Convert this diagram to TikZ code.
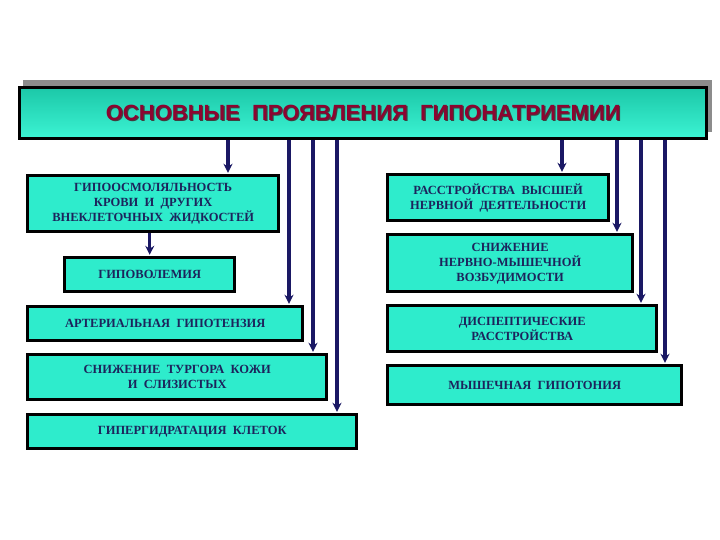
\documentclass[tikz,border=0pt]{standalone}
\usepackage{fontspec}
\setmainfont{Liberation Serif}
\newfontfamily\titlefont{Liberation Sans}
\usetikzlibrary{arrows.meta,calc}
\definecolor{boxfill}{RGB}{46,236,204}
\definecolor{boxtop}{RGB}{28,200,168}
\definecolor{boxbot}{RGB}{60,244,212}
\definecolor{navytext}{RGB}{28,36,92}
\definecolor{arrowcol}{RGB}{26,24,100}
\definecolor{titlered}{RGB}{140,4,48}
\definecolor{shadowgray}{RGB}{140,140,140}
\tikzset{
  box/.style={draw=black, line width=3.4pt, fill=boxfill, anchor=north west,
    inner sep=0pt, align=center, font=\bfseries\fontsize{12.5}{15}\selectfont, text=navytext},
  arr/.style={draw=arrowcol, line width=3.2pt, -{Stealth[length=9pt,width=9pt]}, shorten >=1.2pt},
}
\begin{document}
\begin{tikzpicture}[x=1pt,y=-1pt]
\useasboundingbox (0,0) rectangle (720,540);
% title shadow and box
\fill[shadowgray] (23,80) rectangle (712,132);
\node[draw=black, line width=3.4pt, top color=boxtop, bottom color=boxbot,
  minimum width=687pt, minimum height=51pt, anchor=north west, inner sep=0pt] (title) at (18,86) {};
\node[text=black!75, font=\titlefont\bfseries\fontsize{22}{26}\selectfont] at ($(title.center)+(1.2,1.2)$) {ОСНОВНЫЕ\ \ ПРОЯВЛЕНИЯ\ \ ГИПОНАТРИЕМИИ};
\node[text=titlered, font=\titlefont\bfseries\fontsize{22}{26}\selectfont] (ttext) at (title.center) {ОСНОВНЫЕ\ \ ПРОЯВЛЕНИЯ\ \ ГИПОНАТРИЕМИИ};
% left boxes
\node[box, minimum width=251pt, minimum height=56pt] (b1) at (26,174) {ГИПООСМОЛЯЛЬНОСТЬ\\КРОВИ\ \ И\ \ ДРУГИХ\\ВНЕКЛЕТОЧНЫХ\ \ ЖИДКОСТЕЙ};
\node[box, minimum width=170pt, minimum height=34pt] (b2) at (63,256) {ГИПОВОЛЕМИЯ};
\node[box, minimum width=275pt, minimum height=34pt] (b3) at (26,305) {АРТЕРИАЛЬНАЯ\ \ ГИПОТЕНЗИЯ};
\node[box, minimum width=299pt, minimum height=45pt] (b4) at (26,353) {СНИЖЕНИЕ\ \ ТУРГОРА\ \ КОЖИ\\И\ \ СЛИЗИСТЫХ};
\node[box, minimum width=329pt, minimum height=34pt] (b5) at (26,413) {ГИПЕРГИДРАТАЦИЯ\ \ КЛЕТОК};
% right boxes
\node[box, minimum width=221pt, minimum height=46pt] (b6) at (386,173) {РАССТРОЙСТВА\ \ ВЫСШЕЙ\\НЕРВНОЙ\ \ ДЕЯТЕЛЬНОСТИ};
\node[box, minimum width=245pt, minimum height=57pt] (b7) at (386,233) {СНИЖЕНИЕ\\НЕРВНО-МЫШЕЧНОЙ\\ВОЗБУДИМОСТИ};
\node[box, minimum width=269pt, minimum height=46pt] (b8) at (386,304) {ДИСПЕПТИЧЕСКИЕ\\РАССТРОЙСТВА};
\node[box, minimum width=294pt, minimum height=39pt] (b9) at (386,364) {МЫШЕЧНАЯ\ \ ГИПОТОНИЯ};
% arrow x positions
\coordinate (x1) at (228,0);
\coordinate (x3) at (289,0);
\coordinate (x4) at (313,0);
\coordinate (x5) at (337,0);
\coordinate (x6) at (562,0);
\coordinate (x7) at (617,0);
\coordinate (x8) at (641,0);
\coordinate (x9) at (665,0);
\draw[arr] (title.south -| x1) -- (b1.north -| x1);
\draw[arr] (b1.south -| b2.north) -- (b2.north);
\draw[arr] (title.south -| x3) -- (b3.north -| x3);
\draw[arr] (title.south -| x4) -- (b4.north -| x4);
\draw[arr] (title.south -| x5) -- (b5.north -| x5);
\draw[arr] (title.south -| x6) -- (b6.north -| x6);
\draw[arr] (title.south -| x7) -- (b7.north -| x7);
\draw[arr] (title.south -| x8) -- (b8.north -| x8);
\draw[arr] (title.south -| x9) -- (b9.north -| x9);
\end{tikzpicture}
\end{document}
